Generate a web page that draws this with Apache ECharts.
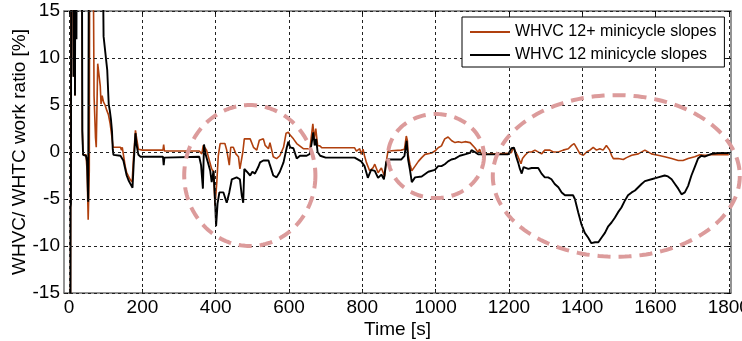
<!DOCTYPE html>
<html><head><meta charset="utf-8">
<script src="https://cdn.jsdelivr.net/npm/echarts@6/dist/echarts.min.js"></script>
<style>html,body{margin:0;padding:0;background:#fff}#c{width:742px;height:341px}</style>
</head><body><div id="c"></div>
<script>
const legendNames = ['WHVC 12+ minicycle slopes', 'WHVC 12 minicycle slopes'];
const xTicks = [0, 200, 400, 600, 800, 1000, 1200, 1400, 1600, 1800];
const yTicks = [-15, -10, -5, 0, 5, 10, 15];

// [time s, ratio %]; values of +/-40 are off-scale spikes clipped by the frame
const slopes12Plus = [
 [3,-40],[4,-5.9],[6,40],[10,40],[12,8],[14,40],[16,6],[18,40],[34,40],[36,2.25],[38,-0.3],[46,-0.3],[49,-2.0],[52,-7.2],[55,-2.0],[57,40],[63,40],[68,6],[72,1.5],[74,0.5],[78,9.4],[82,9.4],[85,7.0],[87,5.1],[90,6.0],[94,5.3],[98,5.0],[103,4.4],[107,4.0],[112,3.0],[117,1.5],[120,0.5],[130,0.5],[140,0.5],[143,0.2],[145,0.5],[148,0.3],[153,-1.5],[157,-2.2],[166,-2.9],[172,-3.2],[175,-1.0],[181,2.3],[184,1.5],[189,0.3],[200,0.2],[256,0.2],[258,0.8],[260,0.1],[355,0.1],
 [360,0.1],[362,-0.2],[366,0.7],[375,0.2],[389,-1.8],[394,-2.1],[398,-5.7],[403,-3.2],[407,-0.4],[412,0.9],[425,0.9],[430,0.2],[437,-1.4],[441,0.5],[448,0.5],[455,-0.2],[462,-0.5],[466,-1.8],[474,0.0],[478,1.4],[494,1.4],[503,0.5],[512,0.2],[519,1.25],[530,1.4],[535,0.7],[544,0.35],[548,1.0],[557,-0.5],[566,-0.7],[575,-0.4],[585,0.5],[592,2.0],[598,2.1],[603,1.8],[612,1.4],[621,0.9],[626,1.1],[639,0.35],[657,0.35],[661,1.7],[665,3.0],[669,1.4],[673,2.5],[678,0.7],[684,0.65],[690,0.45],
 [779,0.45],[784,0.1],[793,0.35],[797,-0.25],[802,0.3],[806,-0.4],[811,-1.1],[820,-2.0],[829,-1.7],[834,-1.3],[843,-2.2],[852,-1.7],[861,-2.6],[865,-1.1],[870,0.1],[906,0.2],[915,0.3],[920,1.7],[923,1.2],[925,-0.25],[930,-1.3],[935,-2.0],[944,-1.5],[953,-1.0],[962,-0.6],[971,-0.25],[989,-0.1],[998,0.1],[1007,0.45],[1016,0.65],[1020,1.0],[1025,1.4],[1034,1.6],[1044,1.2],[1053,1.0],[1062,1.1],[1071,1.0],[1080,1.1],[1094,1.0],[1098,0.8],[1107,0.45],[1116,-0.05],[1120,0.3],[1125,-0.25],[1198,-0.15],[1207,-0.05],[1212,0.5],[1216,0.5],[1225,-0.5],[1233,-1.25],[1237,-0.7],[1244,-0.35],[1253,0.0],[1262,0.0],[1271,0.2],[1289,-0.2],[1298,0.2],[1303,0.35],[1312,0.2],[1321,0.0],[1335,0.0],[1348,0.2],[1362,0.35],[1371,0.7],[1378,0.9],[1384,0.5],[1394,-0.2],[1403,-0.35],[1412,0.0],[1421,0.2],[1430,0.5],[1439,0.2],[1448,0.35],[1457,0.2],[1466,0.7],[1471,0.7],[1475,0.2],[1480,-0.35],[1485,-0.7],[1498,-0.7],[1512,-0.8],[1521,-0.6],[1535,-0.35],[1553,-0.2],[1571,0.2],[1589,-0.2],[1607,-0.35],[1625,-0.5],[1644,-0.7],[1662,-0.9],[1675,-0.9],[1689,-0.7],[1707,-0.5],[1721,-0.3],[1735,-0.35],[1753,-0.3],[1800,-0.3]
];

const slopes12 = [
 [3,-40],[4,-5.9],[5,-5.5],[6,40],[8,20],[10,40],[12,8],[14,40],[16,6.0],[18,40],[20,12],[22,40],[34,40],[36,2.25],[38,-0.3],[46,-0.4],[49,-1.0],[52,-5.3],[55,40],[87,40],[94,12.3],[104,8.7],[108,5.1],[111,4.4],[114,3.5],[117,2.2],[119,0.3],[121,-0.3],[140,-0.4],[148,-0.9],[152,-1.0],[157,-2.5],[162,-3.0],[166,-3.3],[173,-3.8],[176,-1.4],[181,2.0],[184,0.8],[189,-0.3],[195,-0.5],[256,-0.5],[258,-1.4],[260,-0.6],[262,-0.5],[355,-0.5],[360,-1.4],[365,-3.9],[368,0.8],[372,-0.2],[378,-1.0],[385,-2.0],[389,-3.2],[394,-2.0],[398,-5.0],[401,-7.9],[405,-5.5],[410,-4.3],[421,-4.3],[430,-5.4],[437,-4.3],[444,-2.9],[457,-2.7],[466,-2.9],[471,-4.6],[475,-5.4],[478,-1.8],[485,-2.1],[494,-2.5],[500,-2.1],[507,-2.3],[516,-1.6],[521,-1.1],[530,-0.9],[544,-0.9],[548,-1.4],[557,-2.5],[566,-2.7],[575,-2.1],[585,-1.1],[594,0.5],[598,1.1],[603,0.5],[612,0.4],[621,-0.7],[630,-0.4],[648,-0.4],[657,-0.2],[662,1.0],[666,2.1],[670,0.7],[674,1.4],[678,0.0],[685,-0.4],[700,-0.6],
 [779,-0.6],[784,-0.8],[797,-1.0],[806,-1.5],[815,-2.75],[824,-1.9],[834,-2.0],[843,-2.75],[852,-2.4],[859,-2.9],[865,-1.1],[870,-0.8],[906,-0.8],[915,-0.4],[921,1.2],[925,-0.8],[930,-1.9],[935,-3.2],[944,-2.7],[962,-2.6],[980,-2.1],[998,-1.9],[1007,-1.5],[1016,-1.5],[1025,-1.3],[1034,-1.0],[1043,-0.8],[1053,-0.7],[1066,-0.4],[1080,-0.25],[1094,-0.1],[1098,0.2],[1107,0.0],[1116,-0.25],[1125,-0.25],[1198,-0.25],[1207,0.4],[1214,0.45],[1220,-0.5],[1225,-1.1],[1230,-1.8],[1235,-2.3],[1240,-1.6],[1244,-1.8],[1253,-1.8],[1262,-1.7],[1280,-1.7],[1289,-2.3],[1298,-2.7],[1307,-2.7],[1316,-2.9],[1325,-3.4],[1335,-3.75],[1344,-4.3],[1353,-4.6],[1362,-4.6],[1375,-4.6],[1380,-5.0],[1389,-6.4],[1398,-7.7],[1407,-8.6],[1416,-9.1],[1425,-9.7],[1435,-9.6],[1444,-9.6],[1453,-9.1],[1462,-8.6],[1471,-7.9],[1480,-7.5],[1489,-7.0],[1498,-6.4],[1507,-5.9],[1516,-5.2],[1525,-4.6],[1535,-4.3],[1544,-4.1],[1553,-3.75],[1562,-3.4],[1571,-3.1],[1589,-2.9],[1607,-2.7],[1625,-2.5],[1634,-2.6],[1644,-2.9],[1653,-3.4],[1662,-3.9],[1671,-4.5],[1675,-4.6],[1680,-4.3],[1689,-3.6],[1698,-2.5],[1707,-1.6],[1716,-0.7],[1725,-0.4],[1734,-0.5],[1753,-0.2],[1771,-0.1],[1800,-0.1]
];

// annotation ellipses in data units: [centre time, centre ratio, half-width s, half-height %]
const ellipses = [[493, -2.5, 179, 7.5], [1001, -0.43, 131, 4.47], [1493, -2.55, 337, 8.6]];

const FONT = 'Liberation Sans, Arial, sans-serif';
const TICKFONT = 'Liberation Sans Narrow, Arial Narrow, Liberation Sans, sans-serif';
const frameColor = '#6f6f6f';
const chart = echarts.init(document.getElementById('c'), null, {renderer: 'canvas'});

const xAxisCommon = {
  type: 'value', min: -14, max: 1806,
  axisLine: {show: true, onZero: false, lineStyle: {color: frameColor, width: 1.5}},
  axisTick: {show: true, inside: true, length: 4, customValues: xTicks, lineStyle: {color: '#000'}},
  splitLine: {show: false}
};
const yAxisCommon = {
  type: 'value', min: -15, max: 15, interval: 5,
  axisLine: {show: true, onZero: false, lineStyle: {color: frameColor, width: 1.5}},
  axisTick: {show: true, inside: true, length: 4, lineStyle: {color: '#000'}},
  splitLine: {show: false}
};

chart.setOption({
  animation: false,
  backgroundColor: '#fff',
  grid: {left: 64, right: 11, top: 11, bottom: 48, containLabel: false, outerBoundsMode: 'none'},
  legend: {
    data: legendNames.map(n => ({name: n, icon: 'rect'})),
    orient: 'vertical', left: 462, top: 17, z: 20,
    itemWidth: 40, itemHeight: 2, itemGap: 7,
    padding: [7, 8, 4, 8],
    backgroundColor: '#fff', borderColor: '#000', borderWidth: 1, borderRadius: 0,
    textStyle: {fontFamily: FONT, fontSize: 16, color: '#000', lineHeight: 16}
  },
  xAxis: [
    Object.assign({}, xAxisCommon, {
      position: 'bottom',
      name: 'Time [s]', nameLocation: 'middle', nameGap: 27, nameMoveOverlap: false,
      nameTextStyle: {fontFamily: FONT, fontSize: 19, color: '#000'},
      axisLabel: {show: true, customValues: xTicks, margin: 5, fontFamily: TICKFONT, fontSize: 19, color: '#000',
        hideOverlap: false, formatter: v => String(v)}
    }),
    Object.assign({}, xAxisCommon, {position: 'top', axisLabel: {show: false}})
  ],
  yAxis: [
    Object.assign({}, yAxisCommon, {
      position: 'left',
      name: 'WHVC/ WHTC work ratio [%]', nameLocation: 'middle', nameGap: 35, nameMoveOverlap: false,
      nameTextStyle: {fontFamily: FONT, fontSize: 19, color: '#000'},
      axisLabel: {show: true, margin: 4, fontFamily: TICKFONT, fontSize: 19, color: '#000',
        formatter: v => String(v)}
    }),
    Object.assign({}, yAxisCommon, {position: 'right', axisLabel: {show: false}})
  ],
  series: [
    {
      name: 'grid', type: 'line', data: [], silent: true, z: 1,
      markLine: {
        silent: true, symbol: ['none', 'none'], label: {show: false}, animation: false,
        lineStyle: {color: '#222', width: 1, type: [3, 3]},
        emphasis: {disabled: true},
        data: xTicks.map(v => ({xAxis: v})).concat(yTicks.map(v => ({yAxis: v})))
      }
    },
    {
      name: legendNames[0], type: 'line', data: slopes12Plus, showSymbol: false, symbol: 'none',
      color: '#b0400e', lineStyle: {color: '#b0400e', width: 1.6}, z: 3, clip: true
    },
    {
      name: legendNames[1], type: 'line', data: slopes12, showSymbol: false, symbol: 'none',
      color: '#000', lineStyle: {color: '#000', width: 1.9}, z: 4, clip: true
    }
  ]
});

function drawEllipses() {
  const shapes = ellipses.map(([ct, cv, rt, rv]) => {
    const c = chart.convertToPixel({gridIndex: 0}, [ct, cv]);
    const ex = chart.convertToPixel({gridIndex: 0}, [ct + rt, cv]);
    const ey = chart.convertToPixel({gridIndex: 0}, [ct, cv + rv]);
    const rx = Math.abs(ex[0] - c[0]), ry = Math.abs(ey[1] - c[1]);
    const pts = [];
    for (let i = 0; i < 180; i++) {
      const a = i / 180 * Math.PI * 2;
      pts.push([c[0] + rx * Math.cos(a), c[1] + ry * Math.sin(a)]);
    }
    return {
      type: 'polygon', silent: true, z: 10,
      shape: {points: pts},
      style: {fill: null, stroke: '#dc9b9b', lineWidth: 4, lineDash: [13, 8]}
    };
  });
  chart.setOption({graphic: shapes});
}
drawEllipses();
</script>
</body></html>
